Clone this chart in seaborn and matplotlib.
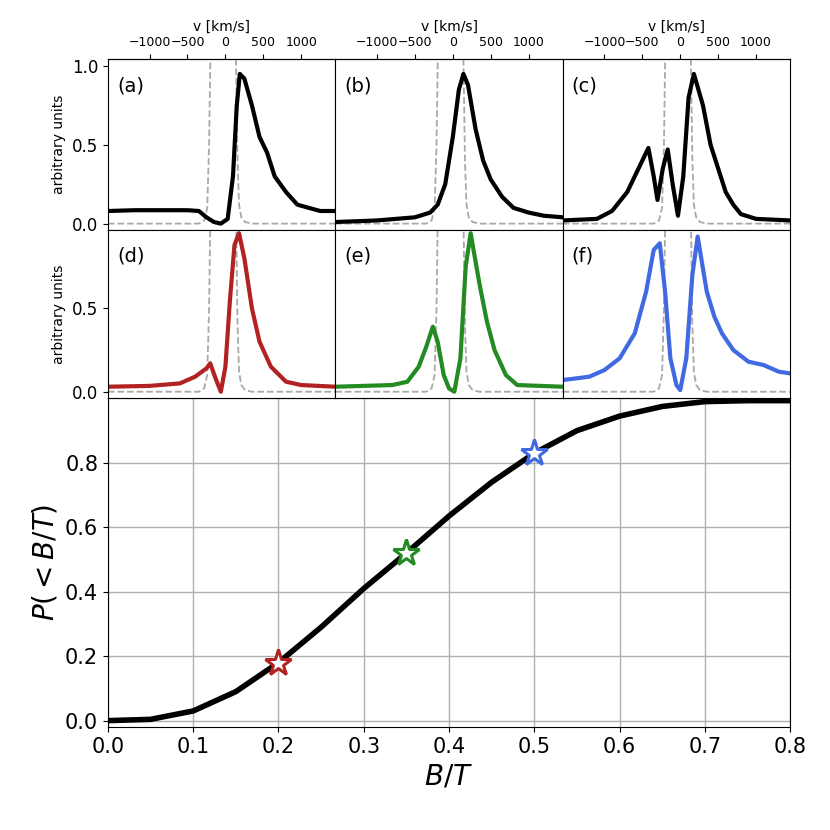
import matplotlib
matplotlib.use('Agg')
import matplotlib.pyplot as plt
import seaborn as sns

# cumulative distribution of B/T
bt = [0.0, 0.05, 0.1, 0.15, 0.2, 0.25, 0.3, 0.35, 0.4, 0.45, 0.5, 0.55, 0.6, 0.65, 0.7, 0.75, 0.8]
cdf = [0.0, 0.004, 0.03, 0.09, 0.18, 0.29, 0.41, 0.52, 0.635, 0.74, 0.83, 0.9, 0.945, 0.975, 0.99, 0.993, 0.993]

# selected galaxies (stars)
star_bt = [0.2, 0.35, 0.5]
star_p = [0.18, 0.52, 0.83]
star_colors = ['firebrick', 'forestgreen', 'royalblue']

# gray dashed reference profile
ref_v = [-1550, -350, -280, -240, -215, -200, -190, 130, 145, 160, 180, 210, 260, 350, 1450]
ref_f = [0.0, 0.0, 0.02, 0.1, 0.5, 1.0, 1.3, 1.3, 0.9, 0.4, 0.12, 0.04, 0.01, 0.0, 0.0]

# spectra: velocity [km/s] and flux
va = [-1550, -1200, -800, -500, -350, -250, -150, -60, 30, 100, 150, 190, 250, 350, 450, 550, 650, 800, 950, 1100, 1250, 1450]
fa = [0.08, 0.085, 0.085, 0.085, 0.08, 0.04, 0.01, 0.0, 0.03, 0.3, 0.75, 0.95, 0.92, 0.75, 0.55, 0.45, 0.3, 0.2, 0.12, 0.1, 0.08, 0.08]
vb = [-1550, -1000, -500, -300, -200, -100, 0, 80, 140, 200, 300, 400, 500, 650, 800, 1000, 1200, 1450]
fb = [0.01, 0.02, 0.04, 0.07, 0.12, 0.25, 0.55, 0.85, 0.95, 0.88, 0.6, 0.4, 0.28, 0.17, 0.1, 0.07, 0.05, 0.04]
vc = [-1550, -1100, -900, -700, -550, -420, -350, -300, -230, -165, -100, -30, 40, 110, 180, 300, 400, 500, 600, 700, 800, 1000, 1450]
fc = [0.02, 0.03, 0.08, 0.2, 0.35, 0.48, 0.3, 0.15, 0.35, 0.47, 0.25, 0.05, 0.3, 0.8, 0.95, 0.75, 0.5, 0.35, 0.2, 0.12, 0.06, 0.03, 0.02]
vd = [-1550, -1000, -600, -400, -250, -200, -130, -60, 0, 60, 120, 180, 250, 350, 450, 600, 800, 1000, 1450]
fd = [0.03, 0.035, 0.05, 0.09, 0.14, 0.17, 0.08, 0.0, 0.15, 0.55, 0.88, 0.95, 0.8, 0.5, 0.3, 0.15, 0.06, 0.04, 0.03]
ve = [-1550, -800, -600, -450, -350, -264, -200, -120, -50, 20, 100, 170, 235, 350, 450, 550, 700, 850, 1450]
fe = [0.03, 0.04, 0.06, 0.15, 0.27, 0.39, 0.3, 0.1, 0.02, 0.0, 0.2, 0.75, 0.95, 0.65, 0.42, 0.25, 0.1, 0.04, 0.03]
vf = [-1550, -1200, -1000, -800, -600, -450, -350, -270, -200, -130, -50, 0, 80, 160, 230, 350, 450, 550, 700, 900, 1100, 1300, 1450]
ff = [0.07, 0.09, 0.13, 0.2, 0.35, 0.6, 0.85, 0.89, 0.6, 0.2, 0.04, 0.01, 0.2, 0.7, 0.93, 0.6, 0.45, 0.35, 0.25, 0.18, 0.16, 0.12, 0.11]

spectra = [(va, fa, 'black', '(a)'), (vb, fb, 'black', '(b)'), (vc, fc, 'black', '(c)'),
           (vd, fd, 'firebrick', '(d)'), (ve, fe, 'forestgreen', '(e)'), (vf, ff, 'royalblue', '(f)')]

fig = plt.figure(figsize=(8.3, 8.3), dpi=100)

# main panel
ax = fig.add_axes([0.130, 0.124, 0.822, 0.396])
sns.lineplot(x=bt, y=cdf, ax=ax, color='black', lw=4)
for x, y, c in zip(star_bt, star_p, star_colors):
    ax.plot(x, y, marker='*', ms=20, mfc='white', mec=c, mew=2.2, ls='none', zorder=5)
ax.set_xlim(0, 0.8)
ax.set_ylim(-0.02, 1.0)
ax.set_yticks([0.0, 0.2, 0.4, 0.6, 0.8])
ax.grid(True, color='#b0b0b0', lw=1)
ax.tick_params(labelsize=15)
ax.set_xlabel('$B/T$', fontsize=20)
ax.set_ylabel('$P(<B/T)$', fontsize=20)

w = 0.822 / 3
for i, (v, f, col, lab) in enumerate(spectra):
    row, c = divmod(i, 3)
    bottom = 0.723 if row == 0 else 0.520
    a = fig.add_axes([0.130 + c * w, bottom, w, 0.203 if row == 1 else 0.206])
    sns.lineplot(x=ref_v, y=ref_f, ax=a, color='darkgray', lw=1.3, ls='--')
    sns.lineplot(x=v, y=f, ax=a, color=col, lw=3)
    a.set_xlim(-1550, 1450)
    if row == 0:
        a.set_ylim(-0.04, 1.045)
    else:
        a.set_ylim(-0.04, 0.97)
    a.text(0.04, 0.9, lab, transform=a.transAxes, fontsize=14, va='top')
    a.set_xticks([])
    if c == 0:
        a.set_yticks([0.0, 0.5, 1.0] if row == 0 else [0.0, 0.5])
        a.tick_params(labelsize=12)
        a.set_ylabel('arbitrary units', fontsize=10)
    else:
        a.set_yticks([])
    if row == 0:
        top = a.secondary_xaxis('top')
        top.set_xticks([-1000, -500, 0, 500, 1000])
        top.tick_params(labelsize=9)
        top.set_xlabel('v [km/s]', fontsize=10)

fig.savefig('out.png', dpi=100)
